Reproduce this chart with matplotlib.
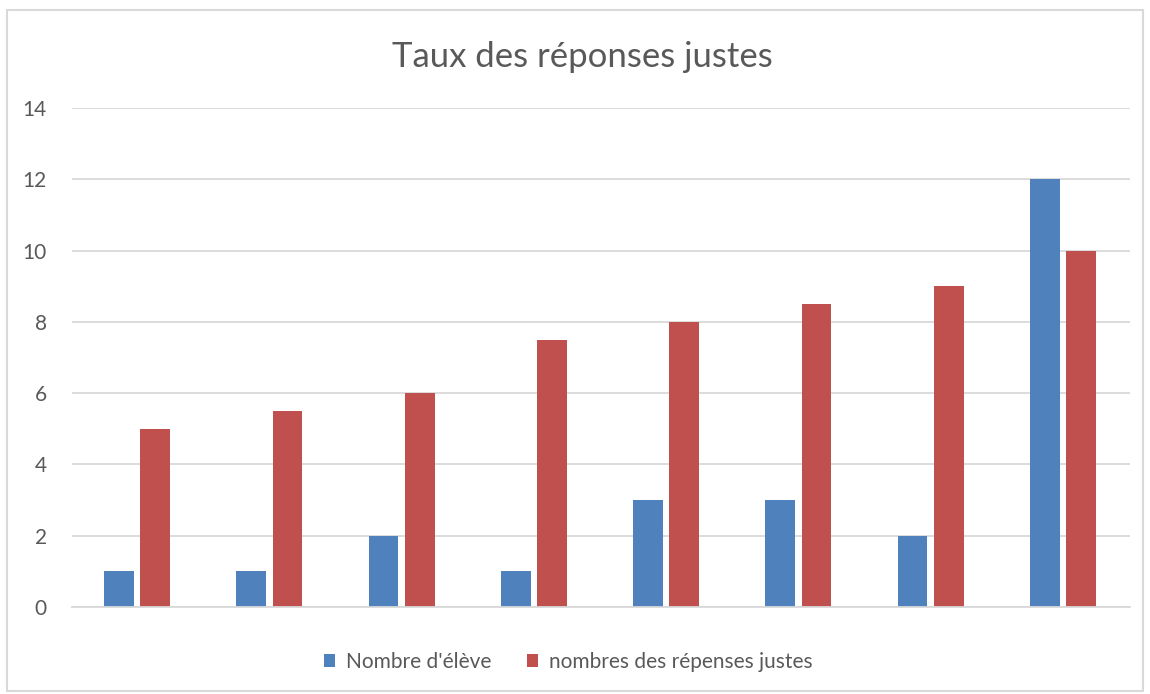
import numpy as np
import matplotlib.pyplot as plt
from matplotlib.patches import Rectangle

plt.rcParams['font.family'] = ['Lato', 'DejaVu Sans']

# data
groups = np.arange(8)
eleves = [1, 1, 2, 1, 3, 3, 2, 12]
reponses = [5, 5.5, 6, 7.5, 8, 8.5, 9, 10]
yticks = [0, 2, 4, 6, 8, 10, 12, 14]

blue = '#4f81bd'
red = '#c0504d'
grey = '#595959'

fig = plt.figure(figsize=(11.5, 6.94), dpi=100)
ax = fig.add_axes([0.0626, 0.1254, 0.92, 0.7190])

w = 0.225
ax.bar(groups - 0.145, eleves, width=w, color=blue, label="Nombre d'élève")
ax.bar(groups + 0.13, reponses, width=w, color=red, label='nombres des répenses justes')

ax.set_xlim(-0.5, 7.5)
ax.set_ylim(0, 14)
ax.set_yticks(yticks)
ax.set_xticks([])
ax.yaxis.grid(True, color='#d9d9d9', linewidth=1.3)
ax.set_axisbelow(True)
for s in ['top', 'right', 'left']:
    ax.spines[s].set_visible(False)
ax.spines['bottom'].set_color('#d9d9d9')
ax.spines['bottom'].set_linewidth(1.3)
ax.tick_params(axis='y', length=0, labelsize=15, labelcolor=grey, pad=18)

fig.text(0.506, 0.918, 'Taux des réponses justes', ha='center', va='center',
         fontsize=25, color=grey)

leg = fig.legend(loc='center', bbox_to_anchor=(0.494, 0.046), ncol=2, frameon=False,
                 fontsize=15, handlelength=0.55, handleheight=0.55, columnspacing=1.7,
                 handletextpad=0.5)
for t in leg.get_texts():
    t.set_color(grey)

# outer chart border
fig.patches.append(Rectangle((0.006, 0.005), 0.988, 0.981, transform=fig.transFigure,
                             fill=False, edgecolor='#d9d9d9', linewidth=1.5))

fig.savefig('out.png', dpi=100)
